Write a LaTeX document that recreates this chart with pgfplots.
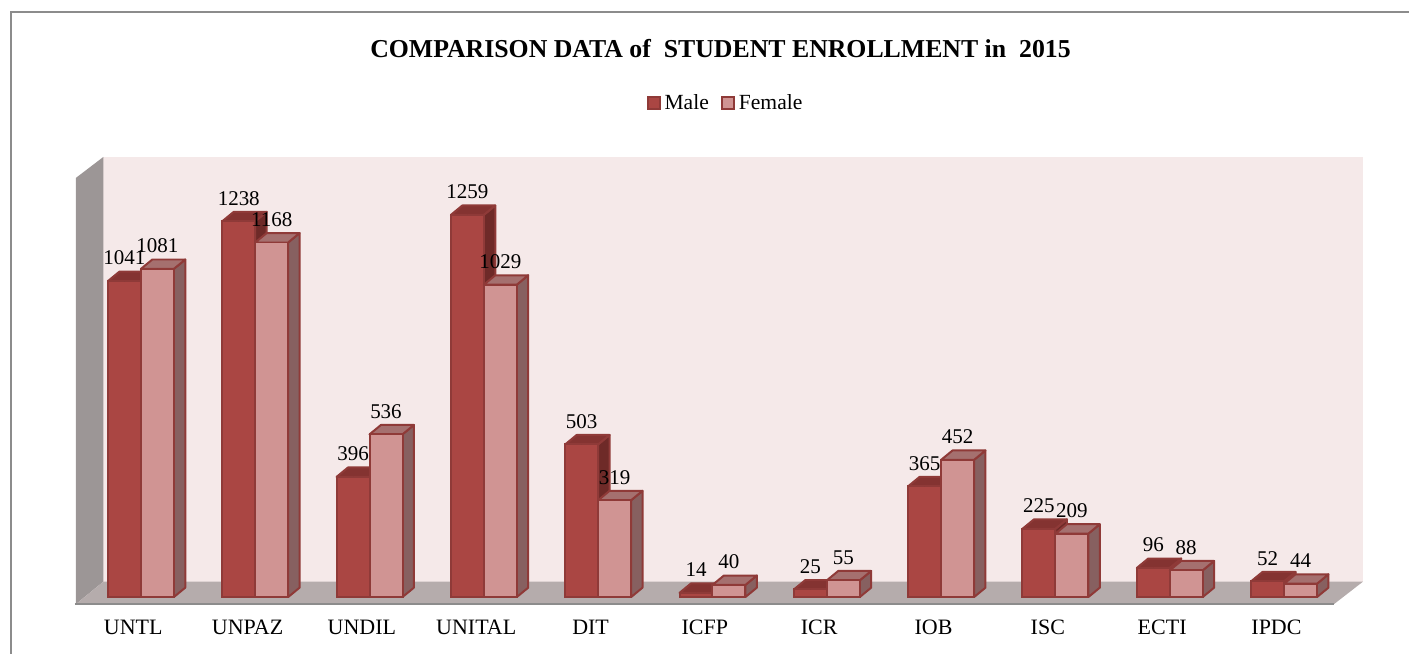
\documentclass[border=0pt]{standalone}
\usepackage{pgfplots}
\usepackage{pgfplotstable}
\usepackage{fontspec}
\setmainfont{Liberation Serif}
\pgfplotsset{compat=1.18}
\definecolor{maleF}{HTML}{AA4643}
\definecolor{maleT}{HTML}{843331}
\definecolor{maleS}{HTML}{6E2A28}
\definecolor{femF}{HTML}{D09493}
\definecolor{femT}{HTML}{A5706F}
\definecolor{femS}{HTML}{876060}
\definecolor{edgeC}{HTML}{8F3A38}
\definecolor{wallC}{HTML}{F5E9E9}
\definecolor{floorC}{HTML}{B5ACAC}
\definecolor{sideC}{HTML}{9C9696}
\definecolor{frameC}{HTML}{8C8C8C}
\pgfplotstableread{
idx name male female
0 UNTL 1041 1081
1 UNPAZ 1238 1168
2 UNDIL 396 536
3 UNITAL 1259 1029
4 DIT 503 319
5 ICFP 14 40
6 ICR 25 55
7 IOB 365 452
8 ISC 225 209
9 ECTI 96 88
10 IPDC 52 44
}\enrol
\newcommand{\faces}[5]{%
  \pgfmathsetmacro\xl{#1+(#3)}%
  \pgfmathsetmacro\xr{\xl+0.288}%
  \pgfmathsetmacro\xld{\xl+0.1}%
  \pgfmathsetmacro\xrd{\xr+0.1}%
  \pgfmathsetmacro\vd{#2+31}%
  \edef\tmp{\noexpand\addplot[forget plot,fill=#5,draw=edgeC,line width=1pt,line join=round] coordinates {(\xr,0) (\xr,#2) (\xrd,\vd) (\xrd,31)} --cycle;
  \noexpand\addplot[forget plot,fill=#4,draw=edgeC,line width=1pt,line join=round] coordinates {(\xl,#2) (\xr,#2) (\xrd,\vd) (\xld,\vd)} --cycle;}\tmp
}
\begin{document}
\begin{tikzpicture}
\path (0,0) rectangle (705pt,327pt);
\begin{scope}[x=0.5pt,y=-0.5pt,shift={(0pt,327pt)}]
  \draw[frameC,line width=1pt] (11,654) -- (11,12) -- (1410,12);
  \fill[wallC] (103.5,157) rectangle (1364,582);
  \fill[sideC] (76,178) -- (103.5,157) -- (103.5,582) -- (76,604.5) -- cycle;
  \fill[floorC] (76,604.5) -- (103.5,582) -- (1364,582) -- (1335,604.5) -- cycle;
  \draw[frameC,line width=1pt] (75,604.5) -- (1335,604.5);
  \node[font=\bfseries\fontsize{12.9}{15}\selectfont] at (721,49) {COMPARISON DATA of\ \ STUDENT ENROLLMENT in\ \ 2015};
\end{scope}
\begin{axis}[
  at={(0,0)},anchor=south west,
  scale only axis,width=705pt,height=327pt,
  clip=false,
  axis line style={draw=none},
  tick style={draw=none},
  xmin=-1.2325,xmax=11.093,
  ymin=-186,ymax=1966.8,
  ytick=\empty,
  xtick={0,...,10},
  xticklabels from table={\enrol}{name},
  xticklabel style={font=\fontsize{11}{13}\selectfont,anchor=center,xshift=-3.8pt,yshift=13pt},
  legend style={at={(0.5156,0.842)},anchor=center,draw=none,fill=none,font=\fontsize{10.8}{13}\selectfont,
    legend columns=2,/tikz/every even column/.append style={column sep=4pt}},
  legend image code/.code={\draw[#1,line width=1pt] (0,-3pt) rectangle (6pt,3pt);},
  /pgf/number format/assume math mode=true,
  /pgf/number format/1000 sep={},
  /pgf/number format/fixed,
  every node near coord/.style={anchor=center,yshift=11.5pt,text=black,font=\fontsize{10.5}{13}\selectfont},
]
\faces{0}{1041}{-0.288}{maleT}{maleS}
\faces{1}{1238}{-0.288}{maleT}{maleS}
\faces{2}{396}{-0.288}{maleT}{maleS}
\faces{3}{1259}{-0.288}{maleT}{maleS}
\faces{4}{503}{-0.288}{maleT}{maleS}
\faces{5}{14}{-0.288}{maleT}{maleS}
\faces{6}{25}{-0.288}{maleT}{maleS}
\faces{7}{365}{-0.288}{maleT}{maleS}
\faces{8}{225}{-0.288}{maleT}{maleS}
\faces{9}{96}{-0.288}{maleT}{maleS}
\faces{10}{52}{-0.288}{maleT}{maleS}
\addplot[ybar,bar width=16.5pt,bar shift=-8.25pt,fill=maleF,draw=edgeC,line width=1pt] table[x=idx,y=male]{\enrol};
\addlegendentry{Male}
\faces{0}{1081}{0}{femT}{femS}
\faces{1}{1168}{0}{femT}{femS}
\faces{2}{536}{0}{femT}{femS}
\faces{3}{1029}{0}{femT}{femS}
\faces{4}{319}{0}{femT}{femS}
\faces{5}{40}{0}{femT}{femS}
\faces{6}{55}{0}{femT}{femS}
\faces{7}{452}{0}{femT}{femS}
\faces{8}{209}{0}{femT}{femS}
\faces{9}{88}{0}{femT}{femS}
\faces{10}{44}{0}{femT}{femS}
\addplot[ybar,bar width=16.5pt,bar shift=8.25pt,fill=femF,draw=edgeC,line width=1pt] table[x=idx,y=female]{\enrol};
\addlegendentry{Female}
\addplot[forget plot,only marks,mark=*,mark size=0pt,draw=none,fill=none,point meta=y,nodes near coords] table[x expr=\thisrow{idx}-0.144,y=male]{\enrol};
\addplot[forget plot,only marks,mark=*,mark size=0pt,draw=none,fill=none,point meta=y,nodes near coords] table[x expr=\thisrow{idx}+0.144,y=female]{\enrol};
\end{axis}
\end{tikzpicture}
\end{document}
